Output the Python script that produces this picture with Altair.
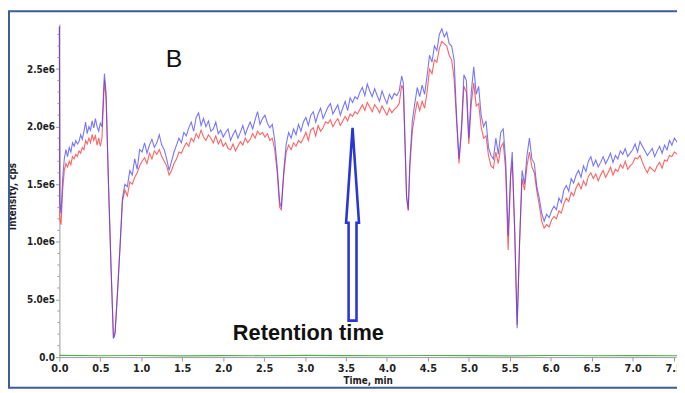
import altair as alt
import pandas as pd

# ---------------- data (intensity in millions of cps) ----------------
time_min = [
    0.000, 0.005, 0.02, 0.04, 0.06, 0.08, 0.10, 0.12, 0.14, 0.16,
    0.18, 0.20, 0.22, 0.24, 0.26, 0.28, 0.30, 0.32, 0.34, 0.36,
    0.38, 0.40, 0.42, 0.44, 0.46, 0.48, 0.50, 0.52, 0.55, 0.57,
    0.60, 0.63, 0.66, 0.68, 0.71, 0.74, 0.77, 0.80, 0.83, 0.86,
    0.89, 0.92, 0.95, 0.98, 1.01, 1.04, 1.07, 1.10, 1.13, 1.16,
    1.19, 1.22, 1.25, 1.28, 1.31, 1.34, 1.37, 1.40, 1.43, 1.46,
    1.49, 1.52, 1.55, 1.58, 1.61, 1.64, 1.67, 1.70, 1.73, 1.76,
    1.79, 1.82, 1.85, 1.88, 1.91, 1.94, 1.97, 2.00, 2.03, 2.06,
    2.09, 2.12, 2.15, 2.18, 2.21, 2.24, 2.27, 2.30, 2.33, 2.36,
    2.39, 2.42, 2.45, 2.48, 2.51, 2.54, 2.57, 2.60, 2.63, 2.66,
    2.69, 2.71, 2.74, 2.77, 2.80, 2.83, 2.86, 2.89, 2.92, 2.95,
    2.98, 3.01, 3.04, 3.07, 3.10, 3.13, 3.16, 3.19, 3.22, 3.25,
    3.28, 3.31, 3.34, 3.37, 3.40, 3.43, 3.46, 3.49, 3.52, 3.55,
    3.58, 3.61, 3.64, 3.67, 3.70, 3.73, 3.76, 3.79, 3.82, 3.85,
    3.88, 3.91, 3.94, 3.97, 4.00, 4.03, 4.06, 4.09, 4.12, 4.15,
    4.18, 4.20, 4.22, 4.24, 4.26, 4.28, 4.31, 4.34, 4.37, 4.40,
    4.43, 4.46, 4.49, 4.52, 4.55, 4.58, 4.61, 4.64, 4.67, 4.70,
    4.73, 4.76, 4.79, 4.82, 4.85, 4.88, 4.91, 4.94, 4.97, 5.00,
    5.03, 5.06, 5.09, 5.12, 5.15, 5.18, 5.21, 5.24, 5.27, 5.30,
    5.33, 5.36, 5.39, 5.42, 5.45, 5.48, 5.51, 5.53, 5.56, 5.59,
    5.62, 5.65, 5.68, 5.71, 5.74, 5.77, 5.80, 5.83, 5.86, 5.89,
    5.92, 5.95, 5.98, 6.01, 6.04, 6.07, 6.10, 6.13, 6.16, 6.19,
    6.22, 6.25, 6.28, 6.31, 6.34, 6.37, 6.40, 6.43, 6.46, 6.49,
    6.52, 6.55, 6.58, 6.61, 6.64, 6.67, 6.70, 6.73, 6.76, 6.79,
    6.82, 6.85, 6.88, 6.91, 6.94, 6.97, 7.00, 7.03, 7.06, 7.09,
    7.12, 7.15, 7.18, 7.21, 7.24, 7.27, 7.30, 7.33, 7.36, 7.39,
    7.42, 7.45, 7.48, 7.51, 7.55,
]

blue_cps_m = [
    2.87, 1.35, 1.25, 1.55, 1.72, 1.80, 1.74, 1.82, 1.78, 1.86,
    1.83, 1.88, 1.85, 1.87, 1.93, 1.89, 1.96, 2.04, 1.94, 2.00,
    1.97, 2.05, 1.99, 2.07, 2.00, 1.96, 2.03, 2.00, 2.46, 2.30,
    1.50, 0.80, 0.16, 0.20, 0.55, 0.95, 1.38, 1.50, 1.48, 1.62,
    1.58, 1.72, 1.63, 1.80, 1.78, 1.86, 1.77, 1.84, 1.89, 1.82,
    1.86, 1.93, 1.84, 1.80, 1.72, 1.62, 1.70, 1.78, 1.84, 1.90,
    1.86, 1.95, 1.92, 1.99, 2.04, 1.96, 2.08, 2.12, 2.01, 2.07,
    2.00, 2.05, 1.96, 1.98, 2.04, 1.94, 1.97, 1.91, 1.95, 1.98,
    1.88, 1.93, 1.97, 1.90, 1.95, 2.01, 1.93, 1.99, 2.04, 1.98,
    2.06, 2.13, 2.02, 2.07, 2.10, 2.03, 1.99, 2.02, 1.88, 1.65,
    1.35, 1.30, 1.62, 1.85, 1.95, 1.90, 1.98, 1.93, 2.02, 1.96,
    2.04, 2.08, 2.01, 2.10, 2.13, 2.04, 2.11, 2.16, 2.07, 2.12,
    2.17, 2.20, 2.11, 2.15, 2.19, 2.10, 2.16, 2.22, 2.14, 2.25,
    2.21, 2.26, 2.24, 2.30, 2.34, 2.27, 2.37, 2.31, 2.26, 2.33,
    2.27, 2.22, 2.31, 2.25, 2.20, 2.28, 2.24, 2.29, 2.27, 2.31,
    2.44, 2.38, 1.90, 1.40, 1.28, 1.70, 2.05, 2.20, 2.34, 2.26,
    2.36, 2.28, 2.44, 2.62, 2.56, 2.70, 2.66, 2.80, 2.85, 2.78,
    2.82, 2.72, 2.70, 2.58, 2.10, 1.72, 2.00, 2.45, 2.40, 1.90,
    2.30, 2.52, 2.28, 2.35, 2.10, 2.00, 2.05, 1.82, 1.75, 1.72,
    1.90, 1.76, 1.95, 1.98, 1.70, 1.05, 1.60, 1.78, 1.10, 0.25,
    1.00, 1.62, 1.50, 1.75, 1.90, 1.72, 1.68, 1.48, 1.38, 1.25,
    1.18, 1.24, 1.21, 1.27, 1.31, 1.28, 1.38, 1.34, 1.45, 1.49,
    1.44, 1.55, 1.51, 1.58, 1.62, 1.56, 1.66, 1.61, 1.70, 1.74,
    1.66, 1.71, 1.65, 1.69, 1.74, 1.68, 1.72, 1.77, 1.69, 1.75,
    1.72, 1.79, 1.76, 1.81, 1.74, 1.77, 1.80, 1.85, 1.78, 1.87,
    1.83, 1.79, 1.75, 1.78, 1.81, 1.74, 1.79, 1.83, 1.77, 1.84,
    1.80, 1.88, 1.84, 1.90, 1.86,
]

red_cps_m = [
    2.87, 1.20, 1.15, 1.45, 1.62, 1.68, 1.65, 1.70, 1.67, 1.74,
    1.72, 1.76, 1.74, 1.79, 1.77, 1.82, 1.80, 1.88, 1.85, 1.90,
    1.86, 1.93, 1.88, 1.92, 1.84, 1.90, 1.83, 1.90, 2.40, 2.25,
    1.48, 0.80, 0.17, 0.22, 0.58, 0.95, 1.35, 1.45, 1.40, 1.52,
    1.50, 1.56, 1.60, 1.66, 1.70, 1.73, 1.68, 1.77, 1.72, 1.79,
    1.76, 1.80, 1.74, 1.70, 1.66, 1.58, 1.62, 1.68, 1.72, 1.78,
    1.77, 1.82, 1.86, 1.83, 1.90, 1.87, 1.94, 1.90, 1.97, 1.91,
    1.88, 1.93, 1.90, 1.86, 1.92, 1.85, 1.89, 1.83, 1.86, 1.81,
    1.80, 1.85, 1.79, 1.83, 1.87, 1.84, 1.90, 1.86, 1.89, 1.94,
    1.90, 1.96, 1.93, 1.95, 1.91, 1.94, 1.88, 1.90, 1.80, 1.60,
    1.30, 1.28, 1.58, 1.78, 1.84, 1.80, 1.86, 1.83, 1.88, 1.86,
    1.90, 1.95, 1.88, 1.97, 1.99, 1.92, 2.01, 1.96, 1.99, 2.04,
    2.03, 2.06, 2.00, 2.04, 2.07, 2.01, 2.05, 2.09, 2.05, 2.11,
    2.09, 2.13, 2.11, 2.15, 2.19, 2.14, 2.21, 2.17, 2.13, 2.19,
    2.16, 2.12, 2.18, 2.14, 2.10, 2.16, 2.12, 2.15, 2.17, 2.20,
    2.36, 2.32, 1.85, 1.38, 1.27, 1.65, 1.96, 2.10, 2.22, 2.14,
    2.22, 2.16, 2.30, 2.50, 2.46, 2.58, 2.56, 2.68, 2.74, 2.72,
    2.70, 2.62, 2.58, 2.42, 2.05, 1.68, 1.95, 2.35, 2.30, 1.85,
    2.20, 2.38, 2.18, 2.20, 2.00, 1.90, 1.92, 1.75, 1.66, 1.64,
    1.78, 1.68, 1.82, 1.86, 1.62, 0.93, 1.55, 1.70, 1.10, 0.28,
    1.00, 1.55, 1.45, 1.66, 1.78, 1.65, 1.60, 1.44, 1.32, 1.18,
    1.12, 1.15, 1.13, 1.19, 1.22, 1.20, 1.27, 1.25, 1.33, 1.38,
    1.35, 1.43, 1.40, 1.47, 1.51, 1.46, 1.53, 1.49, 1.57, 1.60,
    1.55, 1.59, 1.53, 1.58, 1.62, 1.56, 1.60, 1.65, 1.58, 1.63,
    1.61, 1.67, 1.64, 1.70, 1.63, 1.66, 1.68, 1.73, 1.72, 1.75,
    1.69, 1.64, 1.60, 1.65, 1.63, 1.61, 1.66, 1.69, 1.64, 1.71,
    1.70, 1.75, 1.74, 1.78, 1.76,
]

green_time = [0.0, 0.5, 1.0, 1.5, 2.0, 2.5, 3.0, 3.5, 4.0, 4.5, 5.0, 5.5, 6.0, 6.5, 7.0, 7.55]
green_cps_m = [0.015, 0.012, 0.014, 0.011, 0.013, 0.012, 0.015, 0.013, 0.012, 0.014, 0.013, 0.011, 0.014, 0.012, 0.013, 0.012]

x_tick_values = [0.0, 0.5, 1.0, 1.5, 2.0, 2.5, 3.0, 3.5, 4.0, 4.5, 5.0, 5.5, 6.0, 6.5, 7.0, 7.5]
y_tick_values = [0.0, 0.5, 1.0, 1.5, 2.0, 2.5]
y_minor_ticks = [0.1, 0.2, 0.3, 0.4, 0.6, 0.7, 0.8, 0.9, 1.1, 1.2, 1.3, 1.4,
                 1.6, 1.7, 1.8, 1.9, 2.1, 2.2, 2.3, 2.4, 2.6, 2.7, 2.8]

label_b = "B"
label_b_time, label_b_value = 1.40, 2.52
label_rt = "Retention time"
label_rt_time, label_rt_value = 3.04, 0.146
arrow_time, arrow_value = 3.58, 1.153

assert len(time_min) == len(blue_cps_m) == len(red_cps_m)

blue_df = pd.DataFrame({"time": time_min, "cps": blue_cps_m})
red_df = pd.DataFrame({"time": time_min, "cps": red_cps_m})
green_df = pd.DataFrame({"time": green_time, "cps": green_cps_m})
minor_df = pd.DataFrame({"cps": y_minor_ticks})

# ---------------- styling ----------------
X_DOMAIN = [0, 7.53]
Y_DOMAIN = [0, 2.89]
AXIS_GREY = "#9a9a9a"
LABEL_FONT = "'Liberation Sans Narrow', 'DejaVu Sans Condensed', 'Liberation Sans', Arial, sans-serif"

x_enc = alt.X(
    "time:Q",
    scale=alt.Scale(domain=X_DOMAIN, nice=False, zero=False),
    axis=alt.Axis(
        values=x_tick_values, format=".1f", grid=False,
        labelFont=LABEL_FONT, labelFontWeight="bold", labelFontSize=11, labelColor="#222",
        labelFlush=False, labelPadding=2, tickSize=4,
        domainColor=AXIS_GREY, tickColor=AXIS_GREY,
        title="Time, min", titleFont=LABEL_FONT, titleFontWeight="bold", titleFontSize=10,
        titleColor="#222", titleY=27, titleBaseline="alphabetic",
    ),
)
y_enc = alt.Y(
    "cps:Q",
    scale=alt.Scale(domain=Y_DOMAIN, nice=False, zero=False),
    axis=alt.Axis(
        values=y_tick_values, grid=False,
        labelExpr="datum.value == 0 ? '0.0' : (datum.value < 1 ? format(datum.value * 10, '.1f') + 'e5' : format(datum.value, '.1f') + 'e6')",
        labelFont=LABEL_FONT, labelFontWeight="bold", labelFontSize=10, labelColor="#222",
        labelPadding=1, tickSize=4,
        domainColor=AXIS_GREY, tickColor=AXIS_GREY,
        title="Intensity, cps", titleFont=LABEL_FONT, titleFontWeight="bold", titleFontSize=10,
        titleColor="#222", titleX=-44, titleY=174, titleBaseline="alphabetic",
    ),
)

red_line = alt.Chart(red_df).mark_line(color="#ff3b3b", strokeWidth=1.1, opacity=0.8).encode(x=x_enc, y=y_enc)
blue_line = alt.Chart(blue_df).mark_line(color="#3b3bff", strokeWidth=1.1, opacity=0.7).encode(
    x=alt.X("time:Q"), y=alt.Y("cps:Q"))
green_line = alt.Chart(green_df).mark_line(color="#4caf50", strokeWidth=1.2).encode(
    x=alt.X("time:Q"), y=alt.Y("cps:Q"))

minor = alt.Chart(minor_df).mark_rule(color=AXIS_GREY, strokeWidth=1).encode(
    y=alt.Y("cps:Q"), x=alt.value(-2), x2=alt.value(0))

arrow_path = ("M0,-1 L0.067,-0.015 L0.041,-0.015 L0.041,1 "
              "L-0.041,1 L-0.041,-0.015 L-0.067,-0.015 Z")
arrow = alt.Chart(alt.Data(values=[{}])).mark_point(
    shape=arrow_path, size=38025, fill="white", fillOpacity=1, stroke="#2a35d8",
    strokeWidth=2.6, opacity=1,
).encode(x=alt.datum(arrow_time), y=alt.datum(arrow_value))

text_b = alt.Chart(alt.Data(values=[{}])).mark_text(
    text=label_b, font="Liberation Sans", fontSize=25, color="#111",
    align="center", baseline="alphabetic",
).encode(x=alt.datum(label_b_time), y=alt.datum(label_b_value))

text_rt = alt.Chart(alt.Data(values=[{}])).mark_text(
    text=label_rt, font="Liberation Sans", fontSize=22, fontWeight="bold", color="#111",
    align="center", baseline="alphabetic",
).encode(x=alt.datum(label_rt_time), y=alt.datum(label_rt_value))

frame = alt.Chart(alt.Data(values=[{}])).mark_rect(
    fillOpacity=0, stroke="#3d5c9a", strokeWidth=2,
).encode(x=alt.value(-51), x2=alt.value(700), y=alt.value(-13), y2=alt.value(368))

chart = alt.layer(
    red_line, blue_line, green_line, minor, arrow, text_b, text_rt, frame
).properties(
    width=624, height=337,
    padding={"left": 52, "top": 14, "right": 1, "bottom": 34},
    autosize=alt.AutoSizeParams(type="none"),
    background="white",
).configure_view(stroke=None)

chart.save("out.html", embed_options={"renderer": "svg", "actions": False})
